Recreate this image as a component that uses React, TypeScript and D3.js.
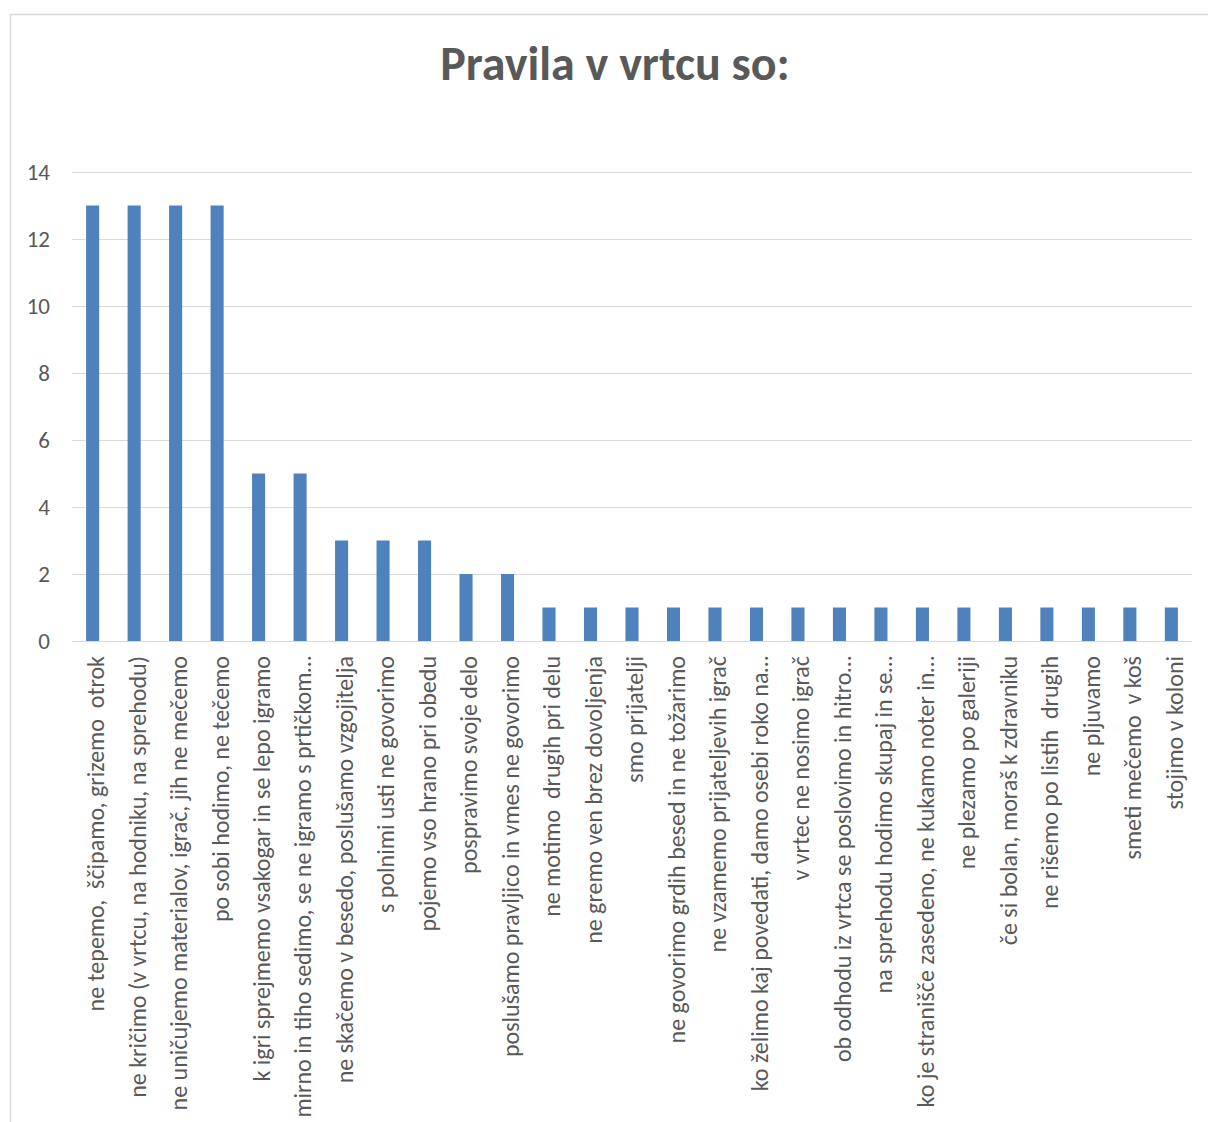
import React from "react";
import * as d3 from "d3";

const categories: string[] = [
  "ne tepemo,  ščipamo, grizemo  otrok",
  "ne kričimo (v vrtcu, na hodniku, na sprehodu)",
  "ne uničujemo materialov, igrač, jih ne mečemo",
  "po sobi hodimo, ne tečemo",
  "k igri sprejmemo vsakogar in se lepo igramo",
  "mirno in tiho sedimo, se ne igramo s prtičkom…",
  "ne skačemo v besedo, poslušamo vzgojitelja",
  "s polnimi usti ne govorimo",
  "pojemo vso hrano pri obedu",
  "pospravimo svoje delo",
  "poslušamo pravljico in vmes ne govorimo",
  "ne motimo  drugih pri delu",
  "ne gremo ven brez dovoljenja",
  "smo prijatelji",
  "ne govorimo grdih besed in ne tožarimo",
  "ne vzamemo prijateljevih igrač",
  "ko želimo kaj povedati, damo osebi roko na…",
  "v vrtec ne nosimo igrač",
  "ob odhodu iz vrtca se poslovimo in hitro…",
  "na sprehodu hodimo skupaj in se…",
  "ko je stranišče zasedeno, ne kukamo noter in…",
  "ne plezamo po galeriji",
  "če si bolan, moraš k zdravniku",
  "ne rišemo po listih  drugih",
  "ne pljuvamo",
  "smeti mečemo  v koš",
  "stojimo v koloni",
];

const values: number[] = [13, 13, 13, 13, 5, 5, 3, 3, 3, 2, 2, 1, 1, 1, 1, 1, 1, 1, 1, 1, 1, 1, 1, 1, 1, 1, 1];

const yTicks: number[] = [0, 2, 4, 6, 8, 10, 12, 14];

const title = "Pravila v vrtcu so:";

const W = 1208;
const H = 1122;
const plotLeft = 72;
const plotRight = 1192;
const plotTop = 172;
const plotBottom = 641;
const textColor = "#595959";
const gridColor = "#d9d9d9";
const barColor = "#4f81bd";
const font = "Carlito, Calibri, 'Open Sans', sans-serif";

export default function App() {
  const x = d3
    .scaleBand<string>()
    .domain(categories)
    .range([plotLeft, plotRight])
    .paddingInner(0.685)
    .paddingOuter(0.34);
  const y = d3.scaleLinear().domain([0, 14]).range([plotBottom, plotTop]);

  return (
    <svg
      width={W}
      height={H}
      style={{ position: "absolute", left: 0, top: 0, display: "block" }}
      fontFamily={font}
    >
      <rect x={0} y={0} width={W} height={H} fill="#fff" />
      <rect x={10.5} y={14.5} width={W + 10} height={H + 10} fill="#fff" stroke={gridColor} strokeWidth={1.5} />
      <text
        x={615}
        y={80}
        textAnchor="middle"
        fontSize={48}
        fontWeight="bold"
        fill={textColor}
      >
        {title}
      </text>
      {yTicks.map((t) => (
        <g key={t}>
          <line x1={plotLeft} x2={plotRight} y1={Math.round(y(t)) + 0.5} y2={Math.round(y(t)) + 0.5} stroke={gridColor} strokeWidth={1} />
          <text x={50} y={y(t)} dy="0.35em" textAnchor="end" fontSize={23} fill={textColor}>
            {t}
          </text>
        </g>
      ))}
      {categories.map((c, i) => (
        <rect
          key={c}
          x={x(c)!}
          y={y(values[i])}
          width={x.bandwidth()}
          height={y(0) - y(values[i])}
          fill={barColor}
        />
      ))}
      {categories.map((c) => {
        const cx = x(c)! + x.bandwidth() / 2 + 3;
        const ty = 656;
        return (
          <text
            key={"l" + c}
            transform={`translate(${cx},${ty}) rotate(-90)`}
            textAnchor="end"
            dy="0.35em"
            fontSize={24}
            fill={textColor}
            style={{ whiteSpace: "pre" }}
          >
            {c}
          </text>
        );
      })}
    </svg>
  );
}
